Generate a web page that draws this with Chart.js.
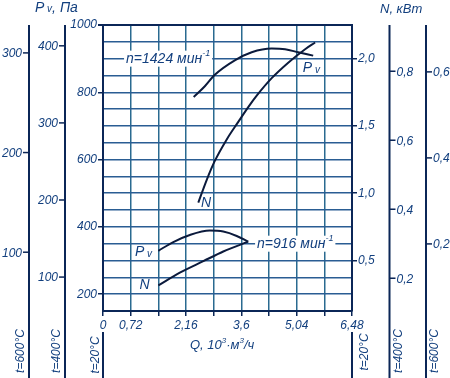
<!DOCTYPE html>
<html lang="ru">
<head>
<meta charset="UTF-8" />
<title>Аэродинамическая характеристика</title>
<script src="https://cdn.jsdelivr.net/npm/chart.js"></script>
<style>
  html, body { margin: 0; padding: 0; background: #fff; }
  #wrap { width: 450px; height: 378px; }
</style>
</head>
<body>
<div id="wrap"><canvas id="fanChart" width="450" height="378"></canvas></div>
<script>
  // Q, 10^3 м3/ч
  const qTicks = [0, 0.72, 1.44, 2.16, 2.88, 3.6, 4.32, 5.04, 5.76, 6.48];
  const qLabels = [0, 0.72, 2.16, 3.6, 5.04, 6.48];

  // n = 1424 мин-1
  const q1424Pv = [2.36, 2.65, 2.91, 3.43, 3.87, 4.39, 4.74, 5.08, 5.47];
  const pv1424  = [786, 818, 852, 895, 919, 930, 928, 919, 909];
  const q1424N  = [2.48, 2.70, 2.91, 3.22, 3.52, 3.78, 4.00, 4.39, 4.82, 5.26, 5.52];
  const n1424   = [0.93, 1.10, 1.24, 1.40, 1.53, 1.64, 1.725, 1.855, 1.97, 2.07, 2.12];

  // n = 916 мин-1
  const q916Pv = [1.44, 1.83, 2.26, 2.78, 3.13, 3.48, 3.78];
  const pv916  = [329, 355, 376, 389, 386, 373, 356];
  const q916N  = [1.44, 2.00, 2.61, 3.13, 3.78];
  const n916   = [0.315, 0.41, 0.495, 0.567, 0.64];

  // scale ticks (t = 20 / 400 / 600 °C)
  const pvTicks20  = [200, 400, 600, 800, 1000];
  const pvTicks400 = [100, 200, 300, 400];
  const pvTicks600 = [100, 200, 300];
  const nTicks20   = [0.5, 1.0, 1.5, 2.0];
  const nTicks400  = [0.2, 0.4, 0.6, 0.8];
  const nTicks600  = [0.2, 0.4, 0.6];

  const INK = '#123f7e';
  const AXIS = '#0b2657';
  const GRID = '#2a5d93';
  const CURVE = '#0b1a3c';
  const FAM = '"Liberation Sans", Arial, sans-serif';

  function fmt(v, d) { return v.toFixed(d).replace('.', ','); }
  function pts(xs, ys) { return xs.map((x, i) => ({ x, y: ys[i] })); }

  const pvGrid = [];
  for (let v = 150; v <= 1000; v += 50) pvGrid.push(v);

  // rich text: parts = [{t, size, dy}]
  function rich(ctx, parts, x, y, box) {
    let w = 0;
    parts.forEach(p => { ctx.font = 'italic ' + p.size + 'px ' + FAM; w += ctx.measureText(p.t).width; });
    if (box) {
      ctx.fillStyle = '#fff';
      ctx.fillRect(x - 2, y - 8, w + 4, 16);
    }
    ctx.fillStyle = INK;
    ctx.textAlign = 'left';
    ctx.textBaseline = 'middle';
    let cx = x;
    parts.forEach(p => {
      ctx.font = 'italic ' + p.size + 'px ' + FAM;
      ctx.fillText(p.t, cx, y + (p.dy || 0));
      cx += ctx.measureText(p.t).width;
    });
  }

  const extraAxes = [
    { id: 'yP600', x: 29,    side: 'left',  ticks: pvTicks600, dec: 0, t: 't=600°C', tx: 21 },
    { id: 'yP400', x: 65,    side: 'left',  ticks: pvTicks400, dec: 0, t: 't=400°C', tx: 57 },
    { id: 'yN400', x: 389.5, side: 'right', ticks: nTicks400,  dec: 1, t: 't=400°C', tx: 398.5 },
    { id: 'yN600', x: 426,   side: 'right', ticks: nTicks600,  dec: 1, t: 't=600°C', tx: 435 }
  ];

  function vtext(ctx, text, x, y) {
    ctx.save();
    ctx.translate(x, y);
    ctx.rotate(-Math.PI / 2);
    ctx.font = 'italic 12px ' + FAM;
    ctx.fillStyle = INK;
    ctx.textAlign = 'center';
    ctx.textBaseline = 'middle';
    ctx.fillText(text, 0, 0);
    ctx.restore();
  }

  const decor = {
    id: 'decor',
    afterDatasetsDraw(chart) {
      const ctx = chart.ctx;
      const a = chart.chartArea;
      const sx = chart.scales.x, sy = chart.scales.y;
      ctx.save();

      // extra temperature axes
      extraAxes.forEach(ax => {
        const s = chart.scales[ax.id];
        ctx.strokeStyle = AXIS;
        ctx.lineWidth = 2;
        ctx.beginPath();
        ctx.moveTo(ax.x, a.top);
        ctx.lineTo(ax.x, 378);
        ctx.stroke();
        ctx.font = 'italic 12px ' + FAM;
        ctx.fillStyle = INK;
        ctx.textBaseline = 'middle';
        ax.ticks.forEach(v => {
          const py = s.getPixelForValue(v);
          ctx.lineWidth = 1.5;
          ctx.beginPath();
          if (ax.side === 'left') {
            ctx.moveTo(ax.x - 6, py); ctx.lineTo(ax.x, py);
          } else {
            ctx.moveTo(ax.x, py); ctx.lineTo(ax.x + 6, py);
          }
          ctx.stroke();
          ctx.textAlign = ax.side === 'left' ? 'right' : 'left';
          ctx.fillText(fmt(v, ax.dec), ax.side === 'left' ? ax.x - 7 : ax.x + 7, py + 1);
        });
        vtext(ctx, ax.t, ax.tx, 351);
      });

      // main axes continued below the plot
      ctx.strokeStyle = AXIS;
      ctx.lineWidth = 2;
      ctx.beginPath();
      ctx.moveTo(a.left, 332); ctx.lineTo(a.left, 378);
      ctx.moveTo(a.right, 332); ctx.lineTo(a.right, 378);
      ctx.stroke();
      vtext(ctx, 't=20°C', 96, 355);
      vtext(ctx, 't=20°C', 365, 352);

      // axis titles
      rich(ctx, [{ t: 'P', size: 14 }, { t: ' v', size: 10, dy: 1 }, { t: ', Па', size: 14 }], 35, 8);
      rich(ctx, [{ t: 'N, кВт', size: 13 }], 380, 9);
      rich(ctx, [{ t: 'Q, 10', size: 13 }, { t: '3', size: 8, dy: -4 }, { t: '·м', size: 13 }, { t: '3', size: 8, dy: -4 }, { t: '/ч', size: 13 }], 190, 345);

      // curve labels
      const N2P = n => n * 400 + 100;
      rich(ctx, [{ t: 'n=1424 мин', size: 14 }, { t: '-1', size: 9, dy: -5 }], sx.getPixelForValue(0.60), sy.getPixelForValue(900), true);
      rich(ctx, [{ t: 'n=916 мин', size: 14 }, { t: '-1', size: 9, dy: -5 }], sx.getPixelForValue(4.01), sy.getPixelForValue(350), true);
      rich(ctx, [{ t: 'P', size: 14 }, { t: ' v', size: 10, dy: 2 }], sx.getPixelForValue(5.20), sy.getPixelForValue(871));
      rich(ctx, [{ t: 'P', size: 14 }, { t: ' v', size: 10, dy: 2 }], sx.getPixelForValue(0.83), sy.getPixelForValue(325));
      rich(ctx, [{ t: 'N', size: 14 }], sx.getPixelForValue(2.55), sy.getPixelForValue(N2P(0.93) - 2));
      rich(ctx, [{ t: 'N', size: 14 }], sx.getPixelForValue(0.95), sy.getPixelForValue(226));

      ctx.restore();
    }
  };

  const lineStyle = { borderColor: CURVE, borderWidth: 2, pointRadius: 0, cubicInterpolationMode: 'monotone', fill: false };
  const tickFont = { family: FAM, size: 12, style: 'italic' };

  new Chart(document.getElementById('fanChart'), {
    type: 'line',
    data: {
      datasets: [
        Object.assign({ label: 'Pv 1424', data: pts(q1424Pv, pv1424), yAxisID: 'y' }, lineStyle),
        Object.assign({ label: 'N 1424', data: pts(q1424N, n1424), yAxisID: 'yN' }, lineStyle),
        Object.assign({ label: 'Pv 916', data: pts(q916Pv, pv916), yAxisID: 'y' }, lineStyle),
        Object.assign({ label: 'N 916', data: pts(q916N, n916), yAxisID: 'yN' }, lineStyle)
      ]
    },
    options: {
      responsive: false,
      animation: false,
      layout: { padding: { left: 63, right: 68, top: 25, bottom: 42 } },
      plugins: { legend: { display: false }, tooltip: { enabled: false } },
      scales: {
        x: {
          type: 'linear', min: 0, max: 6.48,
          afterBuildTicks: s => { s.ticks = qTicks.map(v => ({ value: v })); },
          afterFit: s => { s.height = 25; },
          ticks: {
            color: INK, font: tickFont, padding: 2, maxRotation: 0, autoSkip: false,
            callback: v => qLabels.some(q => Math.abs(q - v) < 1e-6) ? (v === 0 ? '0' : fmt(v, v === 3.6 ? 1 : 2)) : ''
          },
          grid: { color: '#2a6a90', lineWidth: 1.5, tickLength: 5, tickColor: AXIS },
          border: { display: true, color: AXIS, width: 2 }
        },
        y: {
          type: 'linear', position: 'left', min: 150, max: 1000,
          afterBuildTicks: s => { s.ticks = pvGrid.map(v => ({ value: v })); },
          afterFit: s => { s.width = 40; },
          ticks: {
            color: INK, font: tickFont, padding: 1, autoSkip: false,
            callback: v => pvTicks20.includes(v) ? String(v) : ''
          },
          grid: {
            color: c => (c.tick && c.tick.value === 1000) ? AXIS : GRID,
            lineWidth: c => (c.tick && c.tick.value === 1000) ? 2 : 1.5,
            tickLength: 5,
            tickColor: c => (c.tick && pvTicks20.includes(c.tick.value)) ? AXIS : 'rgba(0,0,0,0)'
          },
          border: { display: true, color: AXIS, width: 2 }
        },
        yN: {
          type: 'linear', position: 'right', min: 0.125, max: 2.25,
          afterBuildTicks: s => { s.ticks = nTicks20.map(v => ({ value: v })); },
          afterFit: s => { s.width = 30; },
          ticks: { color: INK, font: tickFont, padding: 1, autoSkip: false, callback: v => fmt(v, 1) },
          grid: { drawOnChartArea: false, tickLength: 5, tickColor: AXIS, lineWidth: 1.5 },
          border: { display: true, color: AXIS, width: 2 }
        },
        yP400: { type: 'linear', display: false, min: 56, max: 427 },
        yP600: { type: 'linear', display: false, min: 41, max: 328 },
        yN400: { type: 'linear', display: false, min: 0.105, max: 0.934 },
        yN600: { type: 'linear', display: false, min: 0.044, max: 0.709 }
      }
    },
    plugins: [decor]
  });
</script>
</body>
</html>
